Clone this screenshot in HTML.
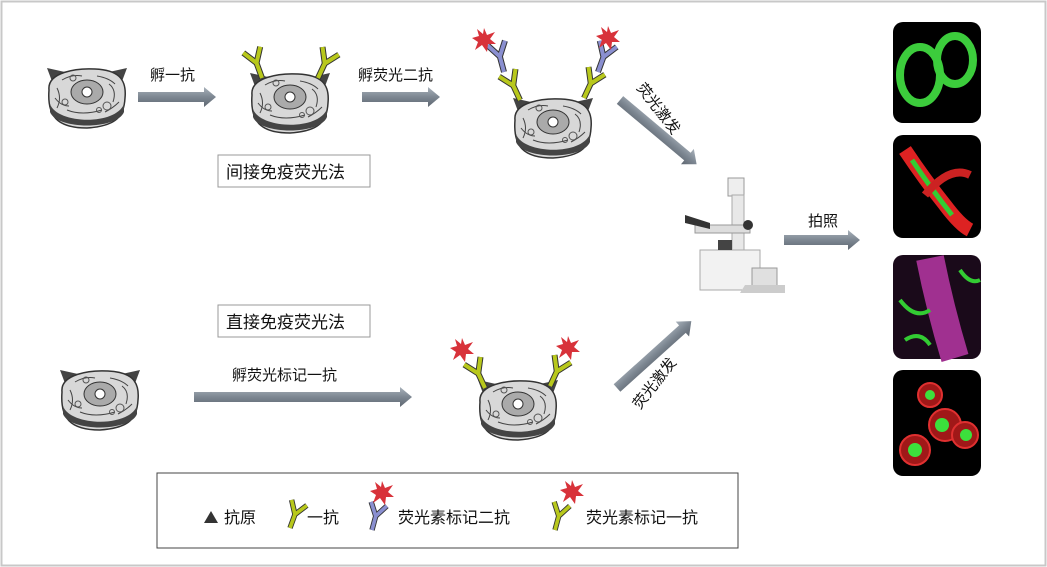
<!DOCTYPE html>
<html><head><meta charset="utf-8"><style>
body{margin:0;background:#fff;}
svg{display:block;font-family:"Liberation Sans","Noto Sans CJK SC",sans-serif;}
</style></head><body>
<svg width="1047" height="567" viewBox="0 0 1047 567">
<defs>
<linearGradient id="ag" x1="0" y1="0" x2="0" y2="1"><stop offset="0" stop-color="#a9b2bb"/><stop offset="0.5" stop-color="#7d8792"/><stop offset="1" stop-color="#5e6670"/></linearGradient>
<g id="cell">
<polygon points="-40,-30 -22,-26 -34,-14" fill="#444"/>
<polygon points="40,-30 22,-26 34,-14" fill="#444"/>
<path d="M-38,-8 C-40,-26 -10,-30 8,-29 C30,-28 40,-20 38,0 C37,18 30,28 0,30 C-30,30 -40,18 -38,-8Z" fill="#d8d8d8" stroke="#333" stroke-width="1.5"/>
<path d="M-37,6 C-30,26 28,28 37,6 L37,14 C30,32 -30,32 -37,14Z" fill="#444"/>
<ellipse cx="0" cy="-6" rx="16" ry="12" fill="#aaa" stroke="#333"/>
<circle cx="0" cy="-6" r="5" fill="#fff" stroke="#333"/>
<path d="M-30,-10 q5,10 0,20 M22,-14 q8,6 4,18 M-20,12 q15,6 35,0 M-25,-18 q10,-6 20,-4 M10,-22 q12,2 18,8 M-32,0 q6,8 14,8 M18,14 q8,-4 14,-10" stroke="#444" fill="none"/>
<circle cx="20" cy="8" r="4" fill="none" stroke="#555"/><circle cx="-14" cy="-20" r="3" fill="none" stroke="#555"/>
<circle cx="-22" cy="4" r="3" fill="none" stroke="#555"/><circle cx="12" cy="12" r="2.5" fill="none" stroke="#555"/>
</g>
<g id="ya"><path d="M0,0 L0,-16 L-9,-30 M0,-16 L9,-30" stroke="#333" stroke-width="6" fill="none"/><path d="M0,0 L0,-16 L-9,-30 M0,-16 L9,-30" stroke="#b8c81c" stroke-width="4" fill="none"/></g>
<g id="yb"><path d="M0,0 L0,-16 L-9,-30 M0,-16 L9,-30" stroke="#333" stroke-width="6" fill="none"/><path d="M0,0 L0,-16 L-9,-30 M0,-16 L9,-30" stroke="#8a8fd0" stroke-width="4" fill="none"/></g>
<polygon id="star" points="0,-12 3,-5 11,-8 6,-1 12,4 4,4 3,12 -2,5 -9,10 -6,2 -12,-2 -5,-4 -7,-11 -1,-6" fill="#d8323a"/>
</defs>
<rect x="1.5" y="1.5" width="1044" height="564" fill="#fff" stroke="#c8c8c8" stroke-width="2"/>
<use href="#cell" x="87" y="98"/>
<use href="#cell" x="290" y="103"/>
<use href="#cell" x="553" y="128"/>
<use href="#cell" x="100" y="400"/>
<use href="#cell" x="518" y="410"/>
<use href="#ya" transform="translate(262,78) rotate(-20)"/>
<use href="#ya" transform="translate(318,78) rotate(25)"/>
<use href="#ya" transform="translate(520,100) rotate(-25)"/>
<use href="#ya" transform="translate(584,98) rotate(25)"/>
<use href="#yb" transform="translate(504,72) rotate(-15)"/>
<use href="#yb" transform="translate(598,72) rotate(20)"/>
<use href="#star" x="484" y="40"/><use href="#star" x="608" y="38"/>
<use href="#ya" transform="translate(485,388) rotate(-25)"/>
<use href="#ya" transform="translate(550,386) rotate(25)"/>
<use href="#star" x="462" y="350"/><use href="#star" x="568" y="348"/>
<g fill="url(#ag)">
<path d="M138,92 h66 v-5 l12,10 l-12,10 v-5 h-66z"/>
<path d="M362,92 h66 v-5 l12,10 l-12,10 v-5 h-66z"/>
<path d="M194,392 h206 v-5 l12,10 l-12,10 v-5 h-206z"/>
<path d="M784,235 h64 v-5 l12,10 l-12,10 v-5 h-64z"/>
<path d="M0,-5 h88 v-5 l12,10 l-12,10 v-5 h-88z" transform="translate(620,100) rotate(40)"/>
<path d="M0,-5 h88 v-5 l12,10 l-12,10 v-5 h-88z" transform="translate(617,388) rotate(-42)"/>
</g>
<g font-size="15" fill="#111">
<text x="150" y="80">孵一抗</text>
<text x="358" y="80">孵荧光二抗</text>
<text x="232" y="380">孵荧光标记一抗</text>
<text x="808" y="226">拍照</text>
<text transform="translate(636,88) rotate(52)">荧光激发</text>
<text transform="translate(640,410) rotate(-52)">荧光激发</text>
</g>
<rect x="218" y="155" width="152" height="32" fill="#fff" stroke="#999"/>
<text x="226" y="178" font-size="17" fill="#111">间接免疫荧光法</text>
<rect x="218" y="305" width="152" height="32" fill="#fff" stroke="#999"/>
<text x="226" y="328" font-size="17" fill="#111">直接免疫荧光法</text>
<g>
<rect x="728" y="178" width="16" height="18" fill="#eee" stroke="#999"/>
<rect x="732" y="195" width="12" height="90" fill="#e8e8e8" stroke="#aaa"/>
<rect x="700" y="250" width="60" height="40" fill="#f2f2f2" stroke="#aaa"/>
<rect x="695" y="225" width="55" height="8" fill="#ddd" stroke="#999"/>
<path d="M685,215 l25,8 v6 l-25,-6z" fill="#333"/>
<circle cx="748" cy="225" r="5" fill="#333"/>
<rect x="752" y="268" width="25" height="20" fill="#e0e0e0" stroke="#999"/>
<rect x="718" y="240" width="14" height="10" fill="#444"/>
<path d="M745,285 h40 v8 h-45z" fill="#ccc"/>
</g>
<rect x="893" y="22" width="88" height="101" rx="10" fill="#000"/>
<ellipse cx="920" cy="75" rx="20" ry="28" fill="none" stroke="#3ccc3c" stroke-width="8"/>
<ellipse cx="955" cy="60" rx="18" ry="24" fill="none" stroke="#3ccc3c" stroke-width="8"/>
<rect x="893" y="135" width="88" height="103" rx="10" fill="#000"/>
<path d="M905,150 q20,30 40,55 q15,20 25,25" stroke="#d22" stroke-width="14" fill="none"/>
<path d="M912,160 q20,30 40,55" stroke="#3c3" stroke-width="5" fill="none"/>
<path d="M925,195 q25,-30 45,-20" stroke="#c22" stroke-width="8" fill="none"/>
<rect x="893" y="255" width="88" height="104" rx="10" fill="#1a0a1a"/>
<path d="M930,258 q10,50 25,100" stroke="#a03090" stroke-width="28" fill="none"/>
<path d="M900,300 q15,20 30,10 M960,270 q10,15 20,10 M905,340 q15,-10 25,5" stroke="#3c3" stroke-width="4" fill="none"/>
<rect x="893" y="370" width="88" height="106" rx="10" fill="#000"/>
<g fill="#a01818" stroke="#e03030" stroke-width="2">
<circle cx="915" cy="450" r="15"/><circle cx="945" cy="425" r="16"/><circle cx="965" cy="435" r="13"/><circle cx="930" cy="395" r="12"/></g>
<g fill="#3ce03c"><circle cx="915" cy="450" r="7"/><circle cx="942" cy="425" r="7"/><circle cx="966" cy="435" r="6"/><circle cx="930" cy="395" r="5"/></g>
<rect x="157" y="473" width="581" height="75" fill="#fff" stroke="#444"/>
<g font-size="16" fill="#111">
<polygon points="204,523 211,511 218,523" fill="#333"/>
<text x="224" y="523">抗原</text>
<use href="#ya" transform="translate(290,528) rotate(20) scale(0.9)"/>
<text x="307" y="523">一抗</text>
<use href="#yb" transform="translate(372,530) rotate(15) scale(0.9)"/>
<use href="#star" x="382" y="493"/>
<text x="398" y="523">荧光素标记二抗</text>
<use href="#ya" transform="translate(555,530) rotate(15) scale(0.9)"/>
<use href="#star" x="572" y="492"/>
<text x="586" y="523">荧光素标记一抗</text>
</g>
</svg>
</body></html>
